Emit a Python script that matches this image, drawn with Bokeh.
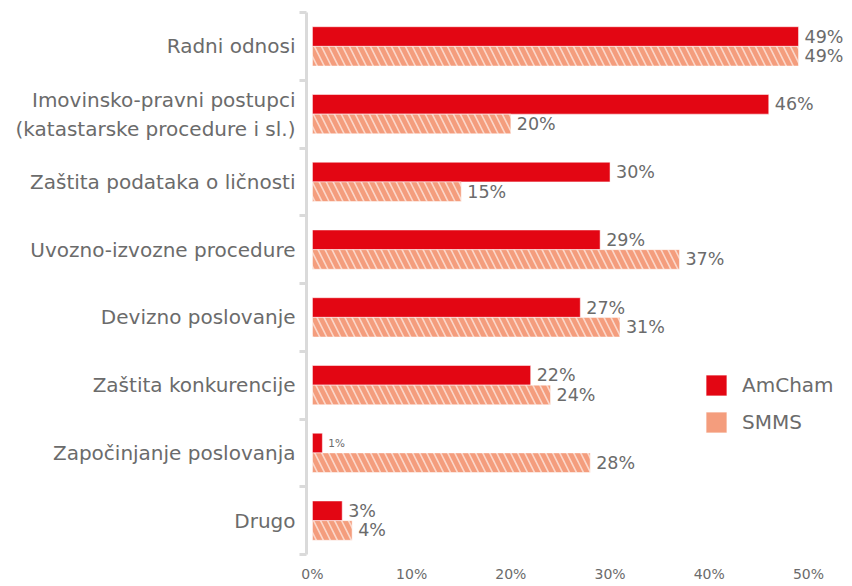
from bokeh.plotting import figure
from bokeh.models import ColumnDataSource, Range1d, FixedTicker, Legend, LegendItem
from bokeh.core.properties import value
from bokeh.embed import file_html
from bokeh.resources import INLINE

categories = [
    "Radni odnosi",
    "Imovinsko-pravni postupci\n(katastarske procedure i sl.)",
    "Zaštita podataka o ličnosti",
    "Uvozno-izvozne procedure",
    "Devizno poslovanje",
    "Zaštita konkurencije",
    "Započinjanje poslovanja",
    "Drugo",
]
amcham = [49, 46, 30, 29, 27, 22, 1, 3]
smms = [49, 20, 15, 37, 31, 24, 28, 4]
x_ticks = [0, 10, 20, 30, 40, 50]
x_tick_labels = ["0%", "10%", "20%", "30%", "40%", "50%"]

RED = "#E30613"
SALMON = "#F49D7D"
GRAY = "#6b6b6b"
AXIS_GRAY = "#dadada"
FONT = "DejaVu Sans"

n = len(categories)
centers = [i + 0.5 for i in range(n)]
bh = 0.29

src_a = ColumnDataSource(dict(
    y=[c - bh / 2 for c in centers], v=amcham,
    lab=[f"{v}%" for v in amcham],
    fs=["10.5px" if v < 2 else "17.5px" for v in amcham],
))
src_s = ColumnDataSource(dict(
    y=[c + bh / 2 for c in centers], v=smms,
    lab=[f"{v}%" for v in smms],
    fs=["10.5px" if v < 2 else "17.5px" for v in smms],
))

p = figure(width=850, height=584, output_backend="svg", toolbar_location=None,
           x_range=Range1d(-0.6, 54.24), y_range=Range1d(n, 0),
           min_border_left=306, min_border_right=0, min_border_top=12, min_border_bottom=21)
p.outline_line_color = None
p.xgrid.grid_line_color = None
p.ygrid.grid_line_color = None

ra = p.hbar(y="y", right="v", left=0, height=bh, source=src_a,
            fill_color=RED, line_color="white", line_alpha=0.5, line_width=1)
rs = p.hbar(y="y", right="v", left=0, height=bh, source=src_s,
            fill_color=SALMON, line_color="white", line_alpha=0.5, line_width=1)
p.hbar(y="y", right="v", left=0, height=bh, source=src_s,
       fill_color=None, line_color=None,
       hatch_pattern="\\", hatch_color="white", hatch_alpha=0.6,
       hatch_weight=1.6, hatch_scale=14)

for src in (src_a, src_s):
    p.text(x="v", y="y", text="lab", source=src, x_offset=6,
           text_font=value(FONT), text_font_size="fs", text_color=GRAY,
           text_baseline="middle", text_align="left")

legend = Legend(items=[LegendItem(label="AmCham", renderers=[ra]),
                       LegendItem(label="SMMS", renderers=[rs])],
                location=(397, 119), orientation="vertical",
                glyph_width=26, glyph_height=26, label_standoff=13, spacing=11,
                padding=0, margin=0, border_line_color=None, background_fill_alpha=0,
                label_text_font=FONT, label_text_font_size="20px", label_text_color=GRAY)
p.add_layout(legend, "center")

# y axis
yax = p.yaxis[0]
yax.ticker = FixedTicker(ticks=centers, minor_ticks=list(range(n + 1)))
yax.major_label_overrides = {c: lab for c, lab in zip(centers, categories)}
yax.major_tick_line_color = None
yax.minor_tick_line_color = AXIS_GRAY
yax.minor_tick_line_width = 3
yax.minor_tick_out = 7
yax.minor_tick_in = 0
yax.axis_line_color = AXIS_GRAY
yax.axis_line_width = 3
yax.major_label_text_font = FONT
yax.major_label_text_font_size = "20px"
yax.major_label_text_color = GRAY
yax.major_label_standoff = 4

xax = p.xaxis[0]
xax.ticker = FixedTicker(ticks=x_ticks)
xax.major_label_overrides = {t: l for t, l in zip(x_ticks, x_tick_labels)}
xax.axis_line_color = None
xax.major_tick_line_color = None
xax.minor_tick_line_color = None
xax.major_label_text_font = FONT
xax.major_label_text_font_size = "14px"
xax.major_label_text_color = GRAY
xax.major_label_standoff = 5

open("out.html", "w").write(file_html(p, INLINE))
